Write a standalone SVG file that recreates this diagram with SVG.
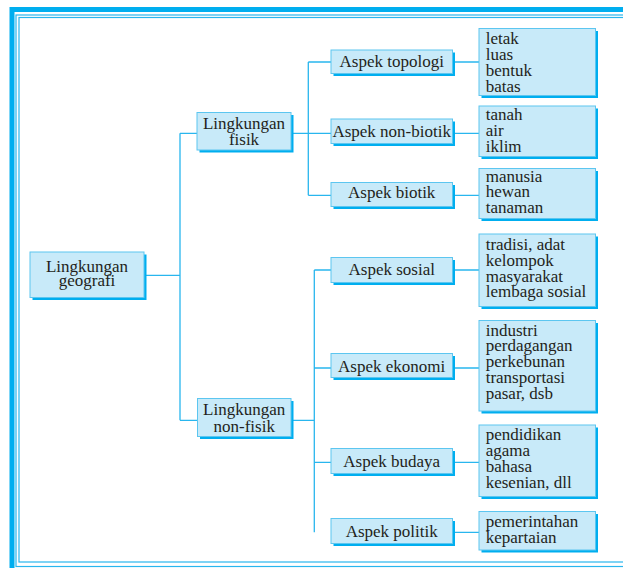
<svg xmlns="http://www.w3.org/2000/svg" width="623" height="568" viewBox="0 0 623 568">
<style>
.sh{fill:#00AEEF}
.bx{fill:#C8EAF9;stroke:#5CC6F0;stroke-width:1}
.t{font-family:"Liberation Serif","Times New Roman",serif;font-size:17px;fill:#231F20}
.c{text-anchor:middle}
.ln{fill:none;stroke:#29B6EE;stroke-width:1.3}
</style>
<rect width="623" height="568" fill="#fff"/>
<g id="frame" fill="none">
<rect x="12" y="9.5" width="700" height="600" stroke="#00AEEF" stroke-width="5"/>
<rect x="16" y="15" width="700" height="551.5" stroke="#29B6EE" stroke-width="1.2"/>
<rect x="19" y="17.5" width="700" height="544.5" stroke="#29B6EE" stroke-width="1.2"/>
</g>
<g id="connectors" class="ln">
<path d="M144 275.3H180M180 133.3V420.3M180 133.3H197M180 420.3H197.5"/>
<path d="M291 133.3H331M308.3 62V195.3M308.3 62H331M308.3 195.3H331"/>
<path d="M452.5 62H479M452.5 133.3H479M452.5 195.3H479"/>
<path d="M291 420.3H314.3M314.3 270V532.3M314.3 270H331M314.3 368H331M314.3 462.3H331"/>
<path d="M452.5 270H479M452.5 368H479M452.5 462.3H479M452.5 532.3H479"/>
</g>
<g id="n-geografi">
<rect class="sh" x="32.5" y="254.5" width="114" height="45.5"/>
<rect class="bx" x="30" y="252" width="114" height="45.5"/>
<text class="t c" x="87" y="271.5">Lingkungan</text>
<text class="t c" x="87" y="286">geografi</text>
</g>
<g id="n-fisik">
<rect class="sh" x="199.5" y="115" width="94" height="37.5"/>
<rect class="bx" x="197" y="112.5" width="94" height="37.5"/>
<text class="t c" x="244" y="128.5">Lingkungan</text>
<text class="t c" x="244" y="145">fisik</text>
</g>
<g id="n-nonfisik">
<rect class="sh" x="200" y="401" width="93.5" height="38"/>
<rect class="bx" x="197.5" y="398.5" width="93.5" height="38"/>
<text class="t c" x="244.2" y="415">Lingkungan</text>
<text class="t c" x="244.2" y="431.7">non-fisik</text>
</g>
<g id="a-topologi">
<rect class="sh" x="333.5" y="52.5" width="121.5" height="23.5"/>
<rect class="bx" x="331" y="50" width="121.5" height="23.5"/>
<text class="t c" x="391.7" y="66.7">Aspek topologi</text>
</g>
<g id="a-nonbiotik">
<rect class="sh" x="333.5" y="121.5" width="121.5" height="24.5"/>
<rect class="bx" x="331" y="119" width="121.5" height="24.5"/>
<text class="t c" x="391.7" y="136.7">Aspek non-biotik</text>
</g>
<g id="a-biotik">
<rect class="sh" x="333.5" y="185" width="121.5" height="24"/>
<rect class="bx" x="331" y="182.5" width="121.5" height="24"/>
<text class="t c" x="391.7" y="198.3">Aspek biotik</text>
</g>
<g id="a-sosial">
<rect class="sh" x="333.5" y="260" width="121.5" height="25"/>
<rect class="bx" x="331" y="257.5" width="121.5" height="25"/>
<text class="t c" x="391.7" y="275">Aspek sosial</text>
</g>
<g id="a-ekonomi">
<rect class="sh" x="333.5" y="356" width="121.5" height="24"/>
<rect class="bx" x="331" y="353.5" width="121.5" height="24"/>
<text class="t c" x="391.7" y="371.7">Aspek ekonomi</text>
</g>
<g id="a-budaya">
<rect class="sh" x="333.5" y="451" width="121.5" height="25"/>
<rect class="bx" x="331" y="448.5" width="121.5" height="25"/>
<text class="t c" x="391.7" y="466.7">Aspek budaya</text>
</g>
<g id="a-politik">
<rect class="sh" x="333.5" y="521" width="121.5" height="25"/>
<rect class="bx" x="331" y="518.5" width="121.5" height="25"/>
<text class="t c" x="391.7" y="536.7">Aspek politik</text>
</g>
<g id="l-topologi">
<rect class="sh" x="481.5" y="31" width="116.5" height="67"/>
<rect class="bx" x="479" y="28.5" width="116.5" height="67"/>
<text class="t" x="485.7" y="44.3">letak</text>
<text class="t" x="485.7" y="60">luas</text>
<text class="t" x="485.7" y="76">bentuk</text>
<text class="t" x="485.7" y="91.7">batas</text>
</g>
<g id="l-nonbiotik">
<rect class="sh" x="481.5" y="108.5" width="116.5" height="50.5"/>
<rect class="bx" x="479" y="106" width="116.5" height="50.5"/>
<text class="t" x="485.7" y="120">tanah</text>
<text class="t" x="485.7" y="136">air</text>
<text class="t" x="485.7" y="151.7">iklim</text>
</g>
<g id="l-biotik">
<rect class="sh" x="481.5" y="171" width="116.5" height="50"/>
<rect class="bx" x="479" y="168.5" width="116.5" height="50"/>
<text class="t" x="485.7" y="181.7">manusia</text>
<text class="t" x="485.7" y="197.3">hewan</text>
<text class="t" x="485.7" y="213.3">tanaman</text>
</g>
<g id="l-sosial">
<rect class="sh" x="481.5" y="236.5" width="116.5" height="72.5"/>
<rect class="bx" x="479" y="234" width="116.5" height="72.5"/>
<text class="t" x="485.7" y="250">tradisi, adat</text>
<text class="t" x="485.7" y="265.7">kelompok</text>
<text class="t" x="485.7" y="281.7">masyarakat</text>
<text class="t" x="485.7" y="297.3">lembaga sosial</text>
</g>
<g id="l-ekonomi">
<rect class="sh" x="481.5" y="323" width="116.5" height="90.5"/>
<rect class="bx" x="479" y="320.5" width="116.5" height="90.5"/>
<text class="t" x="485.7" y="335.7">industri</text>
<text class="t" x="485.7" y="351.3">perdagangan</text>
<text class="t" x="485.7" y="367.3">perkebunan</text>
<text class="t" x="485.7" y="383.3">transportasi</text>
<text class="t" x="485.7" y="399">pasar, dsb</text>
</g>
<g id="l-budaya">
<rect class="sh" x="481.5" y="427.5" width="116.5" height="71.5"/>
<rect class="bx" x="479" y="425" width="116.5" height="71.5"/>
<text class="t" x="485.7" y="440">pendidikan</text>
<text class="t" x="485.7" y="455.5">agama</text>
<text class="t" x="485.7" y="471.7">bahasa</text>
<text class="t" x="485.7" y="487.7">kesenian, dll</text>
</g>
<g id="l-politik">
<rect class="sh" x="481.5" y="514" width="116.5" height="38.5"/>
<rect class="bx" x="479" y="511.5" width="116.5" height="38.5"/>
<text class="t" x="485.7" y="526.7">pemerintahan</text>
<text class="t" x="485.7" y="542.7">kepartaian</text>
</g>
</svg>
